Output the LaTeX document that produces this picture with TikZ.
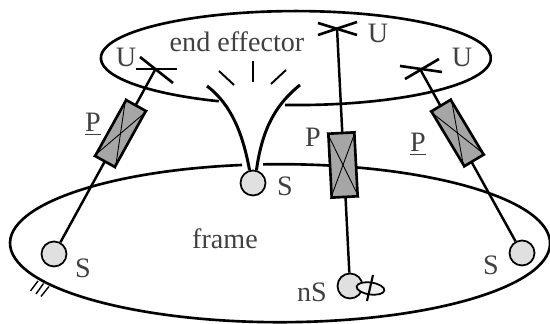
\documentclass[tikz,border=0pt]{standalone}
\usepackage{fontspec}
\setmainfont{Liberation Serif}
\usetikzlibrary{shapes.geometric}

\definecolor{labelgray}{gray}{0.25}

\tikzset{
  ball/.style={circle, draw, line width=1pt, fill=black!12, minimum size=0.5cm, inner sep=0pt},
  prism/.style={rectangle, draw, line width=1.5pt, fill=black!35, minimum width=1.28cm, minimum height=0.45cm, inner sep=0pt},
  leg/.style={line width=1.4pt},
  plate/.style={line width=1.5pt},
  cross/.style={line width=1.5pt},
  lbl/.style={font=\fontsize{16}{18}\selectfont, text=labelgray, inner sep=0pt}
}

\begin{document}
\begin{tikzpicture}

  \useasboundingbox (0,0) rectangle (11,6.48);

  % plates
  \draw[plate] (5.70,4.38) arc[start angle=266.8, end angle=606.7, x radius=3.9, y radius=0.94];
  \draw[plate] (4.84,3.18) arc[start angle=98.1, end angle=453.6, x radius=5.4, y radius=1.58];

  % hatching on the frame
  \foreach \a/\b/\c/\d in {0.76/0.86/0.61/0.66, 0.87/0.81/0.72/0.60, 0.98/0.75/0.82/0.55}
    \draw[line width=0.8pt] (\a,\b) -- (\c,\d);

  % joints
  \node[ball] (ballL) at (1.08,1.40) {};
  \node[ball] (ballM) at (5.06,2.82) {};
  \node[ball] (ballC) at (7.00,0.76) {};
  \node[ball] (ballR) at (10.44,1.42) {};

  \coordinate (jointL) at (3.10,5.08);
  \coordinate (jointC) at (6.74,5.92);
  \coordinate (jointR) at (8.40,5.10);

  \draw[leg] (ballL) -- (jointL);
  \draw[leg] (ballC) -- (jointC);
  \draw[leg] (ballR) -- (jointR);

  \draw[cross] (2.72,5.10) -- (3.54,5.10);
  \draw[cross] (2.80,5.34) -- (3.46,4.82);
  \draw[cross] (6.36,5.78) -- (7.14,6.04);
  \draw[cross] (6.36,6.02) -- (7.14,5.78);
  \draw[cross] (8.00,5.16) -- (8.84,5.04);
  \draw[cross] (8.10,4.90) -- (8.78,5.30);

  % prismatic parts
  \node[prism, rotate=61]  (prismL) at (2.41,3.81) {};
  \node[prism, rotate=-87, minimum height=0.52cm] (prismC) at (6.86,3.18) {};
  \node[prism, rotate=-59] (prismR) at (9.15,3.82) {};
  \foreach \p in {prismL, prismC, prismR} {
    \draw[line width=0.5pt] (\p.north west) -- (\p.south east);
    \draw[line width=0.5pt] (\p.north east) -- (\p.south west);
  }

  % flexure in the middle
  \draw[line width=1.7pt] (ballM.105) .. controls (4.86,3.78) and (4.64,4.38) .. (4.14,4.76);
  \draw[line width=1.7pt] (ballM.75) .. controls (5.24,3.88) and (5.50,4.38) .. (6.00,4.78);
  \draw[line width=1.1pt] (4.38,5.06) -- (4.68,4.78);
  \draw[line width=1.1pt] (5.06,5.26) -- (5.06,4.84);
  \draw[line width=1.1pt] (5.72,5.08) -- (5.42,4.80);

  % actuated ball
  \node[ellipse, draw, line width=1pt, fill=black!6, minimum width=0.56cm, minimum height=0.24cm, inner sep=0pt, rotate=-8] (drive) at (7.41,0.71) {};
  \draw[line width=1.2pt] (7.46,0.98) -- (7.34,0.46);

  \node[lbl] (lblEnd) at (4.74,5.64) {end effector};
  \node[lbl] (lblFrame) at (4.50,1.70) {frame};

  \node[lbl] (lblUL) at (2.52,5.34) {U};
  \node[lbl] (lblUC) at (7.56,5.82) {U};
  \node[lbl] (lblUR) at (9.24,5.34) {U};

  \node[lbl] (lblPL) at (1.86,4.00) {\underline{P}};
  \node[lbl] (lblPC) at (6.26,3.74) {P};
  \node[lbl] (lblPR) at (8.36,3.60) {\underline{P}};

  \node[lbl] (lblSL) at (1.66,1.12) {S};
  \node[lbl] (lblSM) at (5.70,2.76) {S};
  \node[lbl] (lblSR) at (9.82,1.18) {S};
  \node[lbl] (lblSC) at (6.24,0.64) {nS};

\end{tikzpicture}
\end{document}
